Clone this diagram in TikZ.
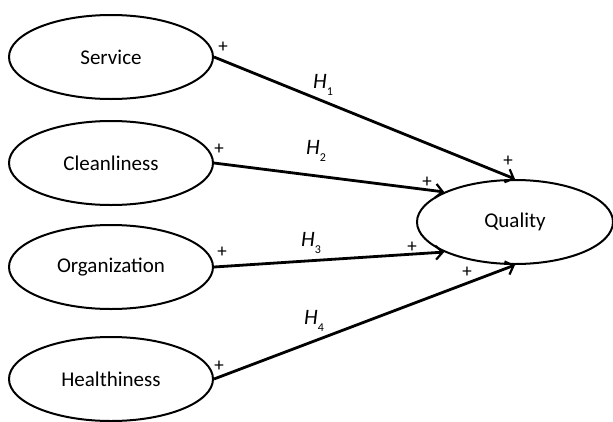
\documentclass[tikz,border=0pt]{standalone}
\usepackage{fontspec}
\setmainfont{Carlito}
\usetikzlibrary{shapes.geometric,arrows.meta}
\begin{document}
\begin{tikzpicture}[x=1pt,y=-1pt,
  construct/.style={ellipse,draw,line width=2pt,inner sep=0pt,minimum width=204pt,minimum height=84pt,font=\fontsize{21}{25}\selectfont},
  path/.style={line width=2.8pt,-{Straight Barb[length=7pt,width=14pt,line width=2.2pt]}},
  sign/.style={font=\fontsize{19}{19}\selectfont,inner sep=0pt},
  hyp/.style={font=\fontsize{22}{22}\selectfont,inner sep=0pt}]
\useasboundingbox (0,0) rectangle (613,421);
\node[construct] (S) at (111,57) {Service};
\node[construct] (C) at (111,163) {Cleanliness};
\node[construct] (O) at (111,267) {Organization};
\node[construct] (H) at (111,379) {Healthiness};
\node[construct,minimum width=196pt,minimum height=84pt] (Q) at (515,222) {Quality};
\draw[path] (S.east) -- (Q.north);
\draw[path] (C.east) -- (Q.157.8);
\draw[path] (O.east) -- (Q.203.6);
\draw[path] (H.east) -- (Q.south);
\node[sign] (p1) at (223,47) {+};
\node[sign] (p2) at (219,149) {+};
\node[sign] (p3) at (222,252) {+};
\node[sign] (p4) at (219,366) {+};
\node[sign] (q1) at (508,161) {+};
\node[sign] (q2) at (427,182) {+};
\node[sign] (q3) at (412,247) {+};
\node[sign] (q4) at (467,272) {+};
\node[hyp] (h1) at (323,85) {\itshape H\raisebox{-0.6ex}{\upshape\fontsize{12}{12}\selectfont 1}};
\node[hyp] (h2) at (316,151) {\itshape H\raisebox{-0.6ex}{\upshape\fontsize{12}{12}\selectfont 2}};
\node[hyp] (h3) at (311,243) {\itshape H\raisebox{-0.6ex}{\upshape\fontsize{12}{12}\selectfont 3}};
\node[hyp] (h4) at (314,321) {\itshape H\raisebox{-0.6ex}{\upshape\fontsize{12}{12}\selectfont 4}};
\end{tikzpicture}
\end{document}
